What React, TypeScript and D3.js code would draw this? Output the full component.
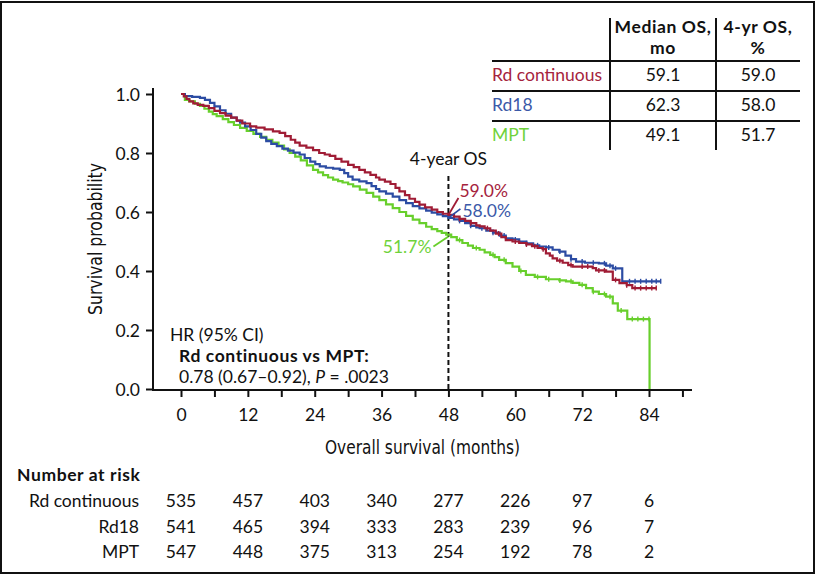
import React, {useEffect, useRef} from "react";
import * as d3 from "d3";

const W = 817, H = 575;

const groups = ["Rd continuous", "Rd18", "MPT"];
const lineColors = ["#a01c35", "#2c4ca3", "#68cf2c"];
const textColors = ["#a5233d", "#3b59a8", "#6fd23b"];
const medianOS = ["59.1", "62.3", "49.1"];
const fourYearOS = ["59.0", "58.0", "51.7"];
const fourYearValue = [0.59, 0.58, 0.517];

const riskMonths = [0, 12, 24, 36, 48, 60, 72, 84];
const riskRd = [535, 457, 403, 340, 277, 226, 97, 6];
const riskRd18 = [541, 465, 394, 333, 283, 239, 96, 7];
const riskMpt = [547, 448, 375, 313, 254, 192, 78, 2];

// KM estimates: [month, survival]
const kmRd: [number, number][] = [
    [0, 1], [0.5, 0.992], [1, 0.983], [1.5, 0.975], [2.2, 0.968], [3, 0.963], [4, 0.96], [5, 0.952],
    [6, 0.943], [7, 0.935], [8, 0.927], [9, 0.92], [10, 0.91], [11, 0.9], [12.4, 0.89], [13.5, 0.886],
    [15, 0.88], [16.5, 0.873], [17.7, 0.868], [18.7, 0.857], [19.7, 0.845], [20.5, 0.835], [21.3, 0.825],
    [22.5, 0.818], [23.7, 0.81], [24.8, 0.8], [25.8, 0.795], [26.7, 0.79], [27.7, 0.78], [28.8, 0.771],
    [30, 0.76], [31, 0.752], [32, 0.743], [33, 0.734], [34, 0.726], [35, 0.717], [35.6, 0.71], [36.6, 0.703],
    [37.6, 0.695], [38.5, 0.682], [39.2, 0.67], [40.2, 0.657], [41, 0.645], [42, 0.634], [42.8, 0.625],
    [43.8, 0.616], [45, 0.608], [46, 0.6], [47, 0.594], [48, 0.59], [49, 0.584], [50, 0.577], [51, 0.57],
    [52, 0.562], [53, 0.555], [53.6, 0.551], [54.5, 0.545], [55.5, 0.537], [56.5, 0.527], [57.5, 0.515],
    [58.3, 0.505], [59.5, 0.5], [60.7, 0.495], [62, 0.49], [63, 0.484], [64, 0.478], [64.9, 0.474],
    [65.5, 0.46], [66.2, 0.452], [66.7, 0.443], [67.5, 0.435], [68.5, 0.428], [69.5, 0.42], [70.3, 0.415],
    [73.9, 0.41], [74.5, 0.402], [76.3, 0.398], [77.5, 0.37], [78.7, 0.359], [80, 0.352], [81, 0.342],
    [85.3, 0.342]
];
const kmRd18: [number, number][] = [
    [0, 1], [0.7, 0.993], [2, 0.99], [3.4, 0.987], [4.3, 0.98], [5.2, 0.97], [6, 0.958], [7, 0.945],
    [8, 0.933], [9, 0.92], [10, 0.91], [10.6, 0.903], [11.5, 0.89], [12.5, 0.878], [13.5, 0.865],
    [14.4, 0.852], [15.3, 0.84], [16.2, 0.831], [17.2, 0.823], [18.2, 0.815], [19.2, 0.808], [20.2, 0.801],
    [21.3, 0.795], [22.2, 0.783], [23.2, 0.771], [24.1, 0.762], [24.9, 0.755], [26, 0.75], [27.3, 0.747],
    [28.5, 0.743], [29.3, 0.732], [30, 0.72], [30.8, 0.71], [32, 0.704], [33.3, 0.698], [34.2, 0.688],
    [35, 0.678], [35.6, 0.67], [36.8, 0.662], [38, 0.652], [39.2, 0.64], [40.4, 0.63], [41.6, 0.62],
    [42.8, 0.612], [44, 0.605], [45, 0.598], [46, 0.592], [47, 0.586], [48, 0.58], [49, 0.575], [50, 0.57],
    [51, 0.562], [52, 0.553], [53, 0.548], [53.6, 0.545], [54.8, 0.537], [56, 0.53], [57.2, 0.52],
    [58.3, 0.511], [59.5, 0.507], [60.7, 0.5], [62, 0.494], [63.2, 0.487], [64.3, 0.483], [65.5, 0.48],
    [66.7, 0.472], [67.9, 0.466], [69, 0.452], [70, 0.44], [70.9, 0.432], [72.5, 0.428], [75, 0.426],
    [76.3, 0.418], [77.5, 0.409], [79.2, 0.365], [86.1, 0.365]
];
const kmMpt: [number, number][] = [
    [0, 1], [0.7, 0.98], [1.5, 0.975], [2.5, 0.967], [3.4, 0.96], [4.2, 0.95], [5, 0.94], [5.7, 0.932],
    [6.4, 0.925], [7.5, 0.915], [8.5, 0.905], [9.5, 0.895], [10.6, 0.885], [11.8, 0.875], [13, 0.865],
    [14.2, 0.855], [15.3, 0.845], [16.4, 0.835], [17.5, 0.825], [18.5, 0.812], [19.5, 0.8], [20.5, 0.788],
    [21.5, 0.775], [22.6, 0.758], [23.7, 0.743], [24.6, 0.734], [25.5, 0.725], [26.4, 0.717], [27.3, 0.71],
    [28.2, 0.705], [29, 0.7], [30, 0.694], [30.9, 0.687], [32.1, 0.676], [33.3, 0.665], [34.5, 0.652],
    [35.6, 0.64], [36.8, 0.626], [38, 0.613], [39.2, 0.6], [40.4, 0.587], [41.6, 0.574], [42.8, 0.562],
    [44, 0.55], [45, 0.542], [46, 0.535], [46.8, 0.529], [47.6, 0.523], [48.5, 0.515], [49.5, 0.505],
    [50.5, 0.495], [51.5, 0.486], [52.4, 0.478], [53.6, 0.472], [54.5, 0.463], [55.5, 0.455], [56.3, 0.447],
    [57.1, 0.438], [58.3, 0.427], [59.5, 0.415], [60.7, 0.4], [61.9, 0.387], [63.5, 0.38], [65.5, 0.372],
    [67.9, 0.368], [69.1, 0.365], [70.3, 0.36], [71.5, 0.353], [72.7, 0.342], [73.9, 0.33], [75, 0.322],
    [76.3, 0.313], [77.5, 0.29], [78.4, 0.266], [80.1, 0.237], [84.1, 0.237], [84.1, 0]
];

const censorRd = [50, 52, 55, 57, 60, 62, 63.5, 65, 68, 70, 72, 73, 75, 76, 78, 80, 81.5, 82.5, 83.5, 84.5, 85.3];
const censorRd18 = [50, 52, 54, 56, 58, 60, 62, 64, 66, 68, 70, 72, 74, 76, 77, 78, 80.5, 81.5, 82.5, 83.5, 84.5, 85.3, 86.1];
const censorMpt = [50, 53, 56, 58, 61, 64, 66, 68, 70, 72, 74, 76, 77, 79, 81, 82, 83, 84];

const FONT = "Lato, 'Open Sans', sans-serif";
const COND = "'DejaVu Sans Condensed', 'Liberation Sans Narrow', sans-serif";
const FS = 17.5;

const App = () => {

    const ref = useRef<SVGSVGElement>(null);

    useEffect(() => {
        if (!ref.current) return;
        const svg = d3.select(ref.current);
        svg.selectAll("*").remove();

        const x = d3.scaleLinear().domain([0, 84]).range([181, 649]);
        const y = d3.scaleLinear().domain([0, 1]).range([389, 94]);
        const axisY = 390, axisX = 153;

        const txt = (parent: any, tx: number, ty: number, s: string, opts: any = {}) =>
            parent.append("text")
                .attr("x", tx).attr("y", ty).attr("dy", "0.35em")
                .attr("text-anchor", opts.anchor || "start")
                .attr("font-family", FONT).attr("font-size", FS)
                .attr("font-weight", opts.bold ? "bold" : "normal")
                .attr("letter-spacing", opts.bold ? 0.6 : 0)
                .attr("fill", opts.fill || "#111")
                .text(s);

        // outer frame
        svg.append("rect")
            .attr("x", 1).attr("y", 2).attr("width", 813).attr("height", 571)
            .attr("fill", "white").attr("stroke", "#111").attr("stroke-width", 2);

        // x axis
        const xAxis = d3.axisBottom(x)
            .tickValues(d3.range(0, 91, 6))
            .tickSize(7)
            .tickFormat((d: any) => (d % 12 === 0 && d <= 84 ? String(d) : ""));
        const gx = svg.append("g").attr("transform", `translate(0, ${axisY})`).call(xAxis);
        gx.select(".domain").remove();
        gx.selectAll("line").attr("stroke", "#111").attr("stroke-width", 2);
        gx.selectAll("text").attr("y", 25).attr("dy", "0.35em")
            .attr("font-family", FONT).attr("font-size", FS).attr("fill", "#111");
        svg.append("line")
            .attr("x1", axisX).attr("x2", 692).attr("y1", axisY).attr("y2", axisY)
            .attr("stroke", "#111").attr("stroke-width", 2);

        // y axis
        const yAxis = d3.axisLeft(y)
            .tickValues([0, 0.2, 0.4, 0.6, 0.8, 1.0])
            .tickSize(7)
            .tickFormat(d3.format(".1f") as any);
        const gy = svg.append("g").attr("transform", `translate(${axisX}, 0)`).call(yAxis);
        gy.select(".domain").remove();
        gy.selectAll("line").attr("stroke", "#111").attr("stroke-width", 2);
        gy.selectAll("text").attr("x", -13).attr("dy", "0.35em")
            .attr("font-family", FONT).attr("font-size", FS).attr("fill", "#111");
        svg.append("line")
            .attr("x1", axisX).attr("x2", axisX).attr("y1", 88).attr("y2", axisY + 1)
            .attr("stroke", "#111").attr("stroke-width", 2);

        // axis titles
        svg.append("text")
            .attr("x", 325).attr("y", 447).attr("dy", "0.35em")
            .attr("textLength", 195).attr("lengthAdjust", "spacingAndGlyphs")
            .attr("font-family", COND).attr("font-size", 19).attr("fill", "#111")
            .text("Overall survival (months)");
        svg.append("text")
            .attr("transform", `translate(95, 239) rotate(-90)`)
            .attr("x", -76).attr("dy", "0.35em")
            .attr("textLength", 152).attr("lengthAdjust", "spacingAndGlyphs")
            .attr("font-family", COND).attr("font-size", 19).attr("fill", "#111")
            .text("Survival probability");

        // 4-year marker
        svg.append("line")
            .attr("x1", x(48)).attr("x2", x(48)).attr("y1", 176).attr("y2", axisY)
            .attr("stroke", "#111").attr("stroke-width", 2).attr("stroke-dasharray", "5,3");
        txt(svg, x(48), 159, "4-year OS", {anchor: "middle"});

        // curves
        const line = d3.line<[number, number]>()
            .x(d => x(d[0])).y(d => y(d[1]))
            .curve(d3.curveStepAfter);
        const series = [kmRd, kmRd18, kmMpt];
        const censors = [censorRd, censorRd18, censorMpt];
        const bis = d3.bisector((d: [number, number]) => d[0]).right;
        [2, 1, 0].forEach(i => {
            svg.append("path")
                .attr("d", line(series[i]))
                .attr("fill", "none")
                .attr("stroke", lineColors[i])
                .attr("stroke-width", 2.2);
            svg.append("g").selectAll("line")
                .data(censors[i])
                .join("line")
                .attr("x1", d => x(d)).attr("x2", d => x(d))
                .attr("y1", d => y(series[i][bis(series[i], d) - 1][1]) - 2.5)
                .attr("y2", d => y(series[i][bis(series[i], d) - 1][1]) + 2.5)
                .attr("stroke", lineColors[i]).attr("stroke-width", 1.4);
        });

        // 4-year callouts
        const x48 = x(48);
        const callouts = [
            {dx: 10, dy: -17, tx: 11, ty: -24, anchor: "start"},
            {dx: 12, dy: -9, tx: 14, ty: -7, anchor: "start"},
            {dx: -15, dy: 10, tx: -17, ty: 10, anchor: "end"},
        ];
        callouts.forEach((c, i) => {
            const py = y(fourYearValue[i]);
            svg.append("line")
                .attr("x1", x48).attr("y1", py).attr("x2", x48 + c.dx).attr("y2", py + c.dy)
                .attr("stroke", lineColors[i]).attr("stroke-width", 1.8);
            txt(svg, x48 + c.tx, py + c.ty, fourYearOS[i] + "%", {anchor: c.anchor, fill: textColors[i]});
        });

        // HR annotation
        txt(svg, 170, 335, "HR (95% CI)");
        txt(svg, 179, 356, "Rd continuous vs MPT:", {bold: true});
        const hr = txt(svg, 179, 377, "");
        hr.append("tspan").text("0.78 (0.67\u20130.92), ");
        hr.append("tspan").attr("font-style", "italic").text("P");
        hr.append("tspan").text(" = .0023");

        // summary table
        const col1 = 663, col2 = 758;
        const tbl = svg.append("g");
        [610, 716].forEach(vx => {
            tbl.append("line").attr("x1", vx).attr("x2", vx).attr("y1", 18).attr("y2", 150)
                .attr("stroke", "#111").attr("stroke-width", 2);
        });
        [61, 91, 121].forEach(hy => {
            tbl.append("line").attr("x1", 492).attr("x2", 800).attr("y1", hy).attr("y2", hy)
                .attr("stroke", "#111").attr("stroke-width", 2);
        });
        const hdr = [["Median OS,", "mo"], ["4-yr OS,", "%"]];
        hdr.forEach((h, j) => {
            h.forEach((t, k) => txt(tbl, j === 0 ? col1 : col2, 27 + k * 21, t, {anchor: "middle", bold: true}));
        });
        groups.forEach((g, i) => {
            const ry = 75 + i * 30;
            txt(tbl, 492, ry, g, {fill: textColors[i]});
            txt(tbl, col1, ry, medianOS[i], {anchor: "middle"});
            txt(tbl, col2, ry, fourYearOS[i], {anchor: "middle"});
        });

        // number at risk
        txt(svg, 17, 475, "Number at risk", {bold: true});
        const risks = [riskRd, riskRd18, riskMpt];
        groups.forEach((g, i) => {
            const ry = 501 + i * 25.5;
            txt(svg, 139, ry, g, {anchor: "end"});
            svg.append("g").selectAll("text")
                .data(risks[i])
                .join("text")
                .attr("x", (d, k) => x(riskMonths[k]))
                .attr("y", ry).attr("dy", "0.35em").attr("text-anchor", "middle")
                .attr("font-family", FONT).attr("font-size", FS).attr("fill", "#111")
                .text(d => String(d));
        });
    }, []);

    return (
        <svg ref={ref} width={W} height={H}
             style={{position: "absolute", left: 0, top: 0, background: "white"}}></svg>
    );
};

export default App;
